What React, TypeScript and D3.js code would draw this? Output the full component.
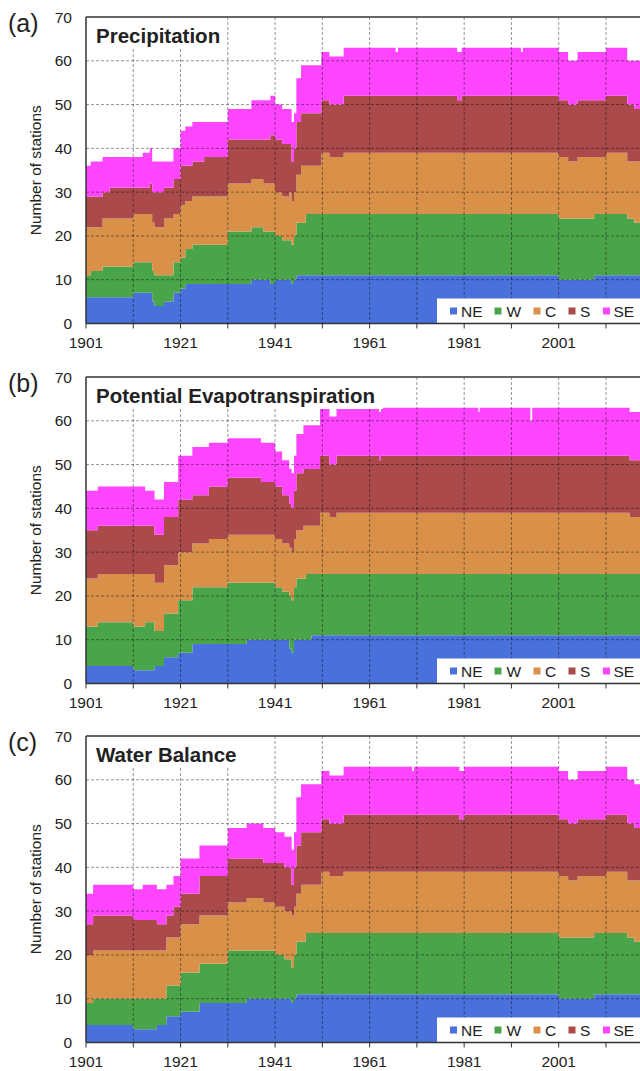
import * as d3 from 'd3';
import React from 'react';

// region keys + colours (stack order bottom -> top)
const KEYS = ['NE', 'W', 'C', 'S', 'SE'];
const COLORS = ['#4a70dc', '#4aa54a', '#d9914a', '#aa4a4a', '#ff45ff'];

// (a) Precipitation: number of stations per region, read at each change point
const YEARS_A = [1901, 1902, 1904.5, 1906, 1911, 1913, 1914.5, 1915, 1915.5, 1917.5,
  1919.5, 1921, 1922, 1923.5, 1926, 1931, 1936, 1938.5, 1940, 1941,
  1942.5, 1944, 1944.5, 1945, 1945.5, 1946.5, 1947.5, 1950.8, 1952.5, 1955.5,
  1966.5, 1967, 1979.5, 1980.5, 1993, 1993.4, 2001, 2003, 2005, 2008.5,
  2011, 2015.5, 2017];
const NE_A = [6, 6, 6, 6, 7, 7, 7, 5, 4, 5, 7, 8, 9, 9, 9, 9, 10, 10, 9, 10, 10, 10, 9, 10, 11, 11, 11, 11, 11, 11, 11, 11, 11, 11, 11, 11, 10, 10, 10, 11, 11, 11, 11];
const W_A = [5, 6, 7, 7, 7, 7, 7, 7, 7, 6, 7, 7, 8, 9, 9, 12, 12, 11, 12, 10, 9, 9, 9, 10, 12, 12, 14, 14, 14, 14, 14, 14, 14, 14, 14, 14, 14, 14, 14, 14, 14, 13, 12];
const C_A = [11, 10, 11, 11, 11, 11, 11, 11, 11, 13, 11, 12, 11, 11, 11, 11, 11, 11, 11, 10, 10, 11, 10, 10, 11, 13, 11, 14, 13, 14, 14, 14, 14, 14, 14, 14, 14, 13, 14, 13, 14, 13, 14];
const S_A = [7, 7, 6, 7, 6, 6, 7, 7, 8, 7, 8, 9, 8, 8, 9, 10, 9, 10, 11, 12, 12, 11, 9, 10, 12, 12, 12, 12, 12, 13, 13, 13, 12, 13, 13, 13, 13, 13, 13, 13, 13, 13, 12];
const SE_A = [7, 8, 8, 7, 7, 8, 8, 7, 7, 6, 7, 8, 9, 9, 8, 7, 9, 9, 9, 8, 8, 8, 9, 8, 10, 11, 11, 11, 11, 11, 10, 11, 11, 11, 10, 11, 11, 10, 11, 11, 11, 10, 11];

// (b) Potential Evapotranspiration
const YEARS_B = [1901, 1903.5, 1911, 1913.5, 1915.5, 1917.5, 1920.5, 1923.5, 1927, 1931,
  1935, 1938, 1941, 1942.5, 1944, 1944.5, 1945, 1945.5, 1947, 1947.5,
  1948.7, 1950.5, 1952.5, 1954, 1963, 1963.4, 1984, 1984.3, 1995, 1995.4,
  2016];
const NE_B = [4, 4, 3, 3, 4, 6, 7, 9, 9, 9, 10, 10, 10, 10, 8, 7, 10, 10, 10, 10, 11, 11, 11, 11, 11, 11, 11, 11, 11, 11, 11];
const W_B = [9, 10, 10, 11, 8, 10, 12, 13, 13, 14, 13, 13, 12, 11, 12, 12, 12, 14, 14, 15, 14, 14, 14, 14, 14, 14, 14, 14, 14, 14, 14];
const C_B = [11, 11, 12, 11, 11, 11, 11, 10, 11, 11, 11, 11, 11, 11, 11, 11, 11, 11, 12, 11, 11, 14, 13, 14, 14, 14, 14, 14, 14, 14, 13];
const S_B = [11, 11, 11, 11, 11, 11, 12, 11, 12, 13, 13, 12, 12, 11, 10, 10, 11, 13, 13, 13, 13, 13, 12, 13, 12, 13, 13, 13, 13, 13, 13];
const SE_B = [9, 9, 9, 8, 8, 8, 10, 11, 10, 9, 9, 9, 8, 8, 8, 8, 8, 9, 10, 10, 10, 11, 11, 11, 11, 11, 10, 11, 8, 11, 11];

// (c) Water Balance
const YEARS_C = [1901, 1902.5, 1911, 1913, 1916, 1918, 1919.5, 1921, 1925, 1931,
  1935, 1938.5, 1941, 1943, 1944.5, 1945, 1945.5, 1946.5, 1947.5, 1950.8,
  1952.5, 1955.5, 1970, 1970.4, 1980, 1981, 2001, 2003, 2005, 2008.5,
  2011, 2015.5, 2017];
const NE_C = [4, 4, 3, 3, 4, 6, 6, 7, 9, 9, 10, 10, 10, 10, 9, 10, 11, 11, 11, 11, 11, 11, 11, 11, 11, 11, 10, 10, 10, 11, 11, 11, 11];
const W_C = [5, 6, 7, 7, 6, 7, 7, 9, 9, 12, 11, 11, 10, 9, 8, 10, 12, 12, 14, 14, 14, 14, 14, 14, 14, 14, 14, 14, 14, 14, 14, 13, 12];
const C_C = [11, 11, 11, 11, 11, 11, 11, 11, 11, 11, 12, 11, 11, 11, 12, 11, 11, 13, 11, 14, 13, 14, 14, 14, 14, 14, 14, 13, 14, 13, 14, 13, 14];
const S_C = [7, 8, 7, 7, 6, 5, 7, 7, 9, 10, 9, 9, 10, 10, 7, 9, 11, 12, 12, 12, 12, 13, 13, 13, 12, 13, 13, 13, 13, 13, 13, 13, 12];
const SE_C = [7, 7, 7, 8, 8, 7, 7, 8, 7, 7, 8, 8, 7, 7, 8, 8, 11, 11, 11, 11, 11, 11, 10, 11, 11, 11, 11, 10, 11, 11, 11, 10, 10];

const Y_TICKS = [0, 10, 20, 30, 40, 50, 60, 70];
const X_LABELS = [1901, 1921, 1941, 1961, 1981, 2001];

const PANELS = [
  { tag: '(a)', title: 'Precipitation', titleBox: 140, years: YEARS_A, series: [NE_A, W_A, C_A, S_A, SE_A] },
  { tag: '(b)', title: 'Potential Evapotranspiration', titleBox: 296, years: YEARS_B, series: [NE_B, W_B, C_B, S_B, SE_B] },
  { tag: '(c)', title: 'Water Balance', titleBox: 156, years: YEARS_C, series: [NE_C, W_C, C_C, S_C, SE_C] },
];

const WIDTH = 640;
const HEIGHT = 1071;
const LEFT = 86;
const X_START = 1901;
const X_END = 2021;
const PX_PER_YEAR = 4.727;
const PANEL_TOPS = [17, 377, 736];
const PLOT_H = 306.5;
const FONT = '"Liberation Sans", Arial, sans-serif';

// legend item positions (square x, label x)
const LEG_SQ = [450, 494.5, 533.5, 568.5, 603];
const LEG_TX = [461, 506.5, 545, 580, 613.5];

function Panel({ panel, top }) {
  const bottom = top + PLOT_H;
  const x = d3.scaleLinear().domain([X_START, X_END]).range([LEFT, LEFT + (X_END - X_START) * PX_PER_YEAR]);
  const y = d3.scaleLinear().domain([0, 70]).range([bottom, top]);

  const rows = panel.years.map((yr, i) => {
    const r: any = { year: yr };
    KEYS.forEach((k, j) => { r[k] = panel.series[j][i]; });
    return r;
  });
  rows.push({ ...rows[rows.length - 1], year: X_END });

  const stacked = d3.stack().keys(KEYS)(rows);
  const area = d3.area()
    .curve(d3.curveStepAfter)
    .x((d: any) => x(d.data.year))
    .y0((d: any) => y(d[0]))
    .y1((d: any) => y(d[1]));

  const decades = d3.range(1911, X_END + 1, 10);
  const tickYears = d3.range(1901, X_END + 1, 10);

  return (
    <g>
      {stacked.map((s, i) => (
        <path key={KEYS[i]} d={area(s as any) || ''} fill={COLORS[i]} />
      ))}

      {/* title box hides the grid behind the title */}
      <rect x={LEFT + 1} y={top + 1} width={panel.titleBox} height={31} fill="#fff" />

      {/* grid */}
      <g stroke="#000" strokeOpacity={0.42} strokeDasharray="3,2" strokeWidth={1}>
        {decades.map(d => (
          <line key={'v' + d} x1={x(d)} x2={x(d)} y1={d < 1931 || (panel.titleBox > 200 && d < 1965) || (panel.titleBox > 150 && d < 1935) ? top + 32 : top} y2={bottom} />
        ))}
        {Y_TICKS.filter(v => v > 0 && v < 70).map(v => (
          <line key={'h' + v} x1={LEFT} x2={WIDTH} y1={y(v)} y2={y(v)} />
        ))}
      </g>

      <text x={LEFT + 10} y={top + 26} fontFamily={FONT} fontWeight="bold" fontSize={20.5} fill="#222">
        {panel.title}
      </text>

      {/* legend */}
      <rect x={437} y={bottom - 25} width={WIDTH} height={25} fill="#fff" />
      {KEYS.map((k, i) => (
        <g key={'lg' + k}>
          <rect x={LEG_SQ[i]} y={bottom - 16} width={7} height={7} fill={COLORS[i]} />
          <text x={LEG_TX[i]} y={bottom - 7} fontFamily={FONT} fontSize={15.5} fill="#222">{k}</text>
        </g>
      ))}

      {/* frame */}
      <line x1={LEFT} x2={WIDTH} y1={top} y2={top} stroke="#333" strokeWidth={1.5} />
      <line x1={LEFT} x2={LEFT} y1={top} y2={bottom} stroke="#333" strokeWidth={1.5} />
      <line x1={LEFT} x2={WIDTH} y1={bottom} y2={bottom} stroke="#333" strokeWidth={1.5} />

      {/* x axis */}
      {tickYears.map(t => (
        <line key={'t' + t} x1={x(t)} x2={x(t)} y1={bottom} y2={bottom + 5} stroke="#333" strokeWidth={1} />
      ))}
      {X_LABELS.map(t => (
        <text key={'xl' + t} x={x(t)} y={bottom + 24} textAnchor="middle" fontFamily={FONT} fontSize={15.5} fill="#222">{t}</text>
      ))}

      {/* y axis */}
      {Y_TICKS.map(v => (
        <text key={'yl' + v} x={72} y={y(v) + 5.5} textAnchor="end" fontFamily={FONT} fontSize={15.5} fill="#222">{v}</text>
      ))}
      <text transform={`translate(41,${(top + bottom) / 2}) rotate(-90)`} textAnchor="middle" fontFamily={FONT} fontSize={15.5} fill="#222">
        Number of stations
      </text>

      <text x={8} y={top + 15} fontFamily={FONT} fontSize={25} fill="#222">{panel.tag}</text>
    </g>
  );
}

export default function App() {
  return (
    <svg width={WIDTH} height={HEIGHT} style={{ position: 'absolute', left: 0, top: 0, background: '#fff' }}>
      {PANELS.map((p, i) => (
        <Panel key={p.tag} panel={p} top={PANEL_TOPS[i]} />
      ))}
    </svg>
  );
}
